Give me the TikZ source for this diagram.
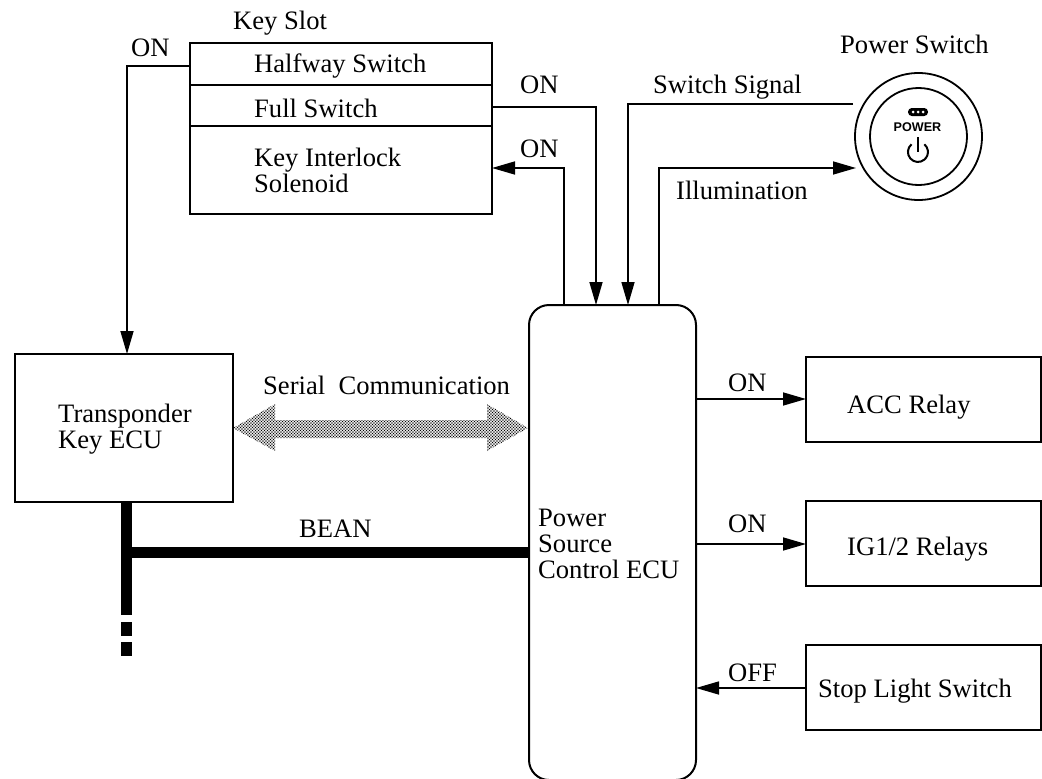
\documentclass[tikz,border=0pt]{standalone}
\usepackage{fontspec}
\setmainfont{Liberation Serif}
\newfontfamily\hv{Liberation Sans}
\usetikzlibrary{arrows.meta,patterns}
\pgfdeclarepatternformonly{checkdots}{\pgfqpoint{-0.5pt}{-0.5pt}}{\pgfqpoint{3pt}{3pt}}{\pgfqpoint{3pt}{3pt}}{%
  \pgfpathrectangle{\pgfqpoint{-0.1pt}{-0.1pt}}{\pgfqpoint{1.2pt}{1.2pt}}%
  \pgfpathrectangle{\pgfqpoint{1.4pt}{1.4pt}}{\pgfqpoint{1.2pt}{1.2pt}}%
  \pgfusepath{fill}}
\tikzset{
 x=1pt,y=-1pt,
 boxn/.style={draw,line width=2pt,inner sep=0pt,outer sep=0pt,minimum width=#1,anchor=north west},
 lab/.style={font=\fontsize{26.6}{30}\selectfont,inner sep=0pt,anchor=base west,align=left},
 wire/.style={line width=1.6pt},
 arr/.style={line width=1.6pt,-{Triangle[length=23pt,width=13pt]}},
 bus/.style={line width=11pt,line cap=butt},
 ring/.style={circle,draw,line width=1.8pt,inner sep=0pt,outer sep=0pt},
 dotc/.style={circle,fill=white,inner sep=0pt,minimum size=3pt},
}
\begin{document}
\begin{tikzpicture}
\useasboundingbox (0,0) rectangle (1042,779);
% boxes
\node[boxn=302pt,minimum height=171pt] (slot) at (190,43) {};
\coordinate (s1) at (190,85); \coordinate (s1r) at (492,85);
\coordinate (s2) at (190,126); \coordinate (s2r) at (492,126);
\draw[wire] (s1) -- (s1r); \draw[wire] (s2) -- (s2r);
\node[boxn=218pt,minimum height=148pt] (tk) at (15,354) {};
\begin{scope}
\clip (0,0) rectangle (1042,779);
\node[boxn=167pt,minimum height=475pt,rounded corners=20pt] (ecu) at (529,305) {};
\end{scope}
\node[boxn=235pt,minimum height=85pt] (acc) at (806,357) {};
\node[boxn=235pt,minimum height=85pt] (ig) at (806,501) {};
\node[boxn=235pt,minimum height=85pt] (stop) at (806,645) {};
% power switch
\node[ring,minimum size=127pt] (pw) at (918.5,136.5) {};
\node[ring,minimum size=97pt] (pwi) at (918.5,136.5) {};
\node[fill=black,rounded corners=3.8pt,minimum width=20pt,minimum height=8pt,inner sep=0pt] (led) at (918,112) {};
\node[dotc] (d1) at (913,112) {};
\node[dotc] (d2) at (918,112) {};
\node[dotc] (d3) at (923,112) {};
\node[font=\hv\bfseries\fontsize{12.6}{13}\selectfont,inner sep=0pt] (pwt) at (917.5,127) {POWER};
\draw[line width=2pt] (911.5,144.3) arc[start angle=130,end angle=410,radius=10pt];
\coordinate (ia) at (918,137); \coordinate (ib) at (918,152);
\draw[line width=2pt] (ia) -- (ib);
% labels
\node[lab] (t1) at (233,30) {Key Slot};
\node[lab] (t2) at (254,72) {Halfway Switch};
\node[lab] (t3) at (254,117) {Full Switch};
\node[lab] (t4) at (254,166) {Key Interlock};
\node[lab] (t5) at (254,192) {Solenoid};
\node[lab] (t6) at (131,56) {ON};
\node[lab] (t7) at (520,93) {ON};
\node[lab] (t8) at (520,157) {ON};
\node[lab] (t9) at (653,93) {Switch Signal};
\node[lab] (t10) at (676,199) {Illumination};
\node[lab] (t11) at (840,53) {Power Switch};
\node[lab] (t12) at (263,394) {Serial\ \ Communication};
\node[lab] (t13) at (58,422) {Transponder};
\node[lab] (t14) at (58,448) {Key ECU};
\node[lab] (t15) at (299,537) {BEAN};
\node[lab] (t16) at (538,526) {Power};
\node[lab] (t17) at (538,552) {Source};
\node[lab] (t18) at (538,578) {Control ECU};
\node[lab] (t19) at (728,391) {ON};
\node[lab] (t20) at (728,532) {ON};
\node[lab] (t21) at (728,681) {OFF};
\node[lab] (t22) at (847,413) {ACC Relay};
\node[lab] (t23) at (847,555) {IG1/2 Relays};
\node[lab] (t24) at (818,697) {Stop Light Switch};
% connectors
\coordinate (c1) at (127,66);
\draw[arr] (slot.west |- c1) -- (c1) -- (c1 |- tk.north);
\coordinate (c2) at (596,107);
\draw[arr] (slot.east |- c2) -- (c2) -- (c2 |- ecu.north);
\coordinate (c3) at (564,168);
\draw[arr] (c3 |- ecu.north) -- (c3) -- (c3 -| slot.east);
\coordinate (c4s) at (853,104); \coordinate (c4) at (628,104);
\draw[arr] (c4s) -- (c4) -- (c4 |- ecu.north);
\coordinate (c5) at (659,168); \coordinate (c5t) at (856,168);
\draw[arr] (c5 |- ecu.north) -- (c5) -- (c5t);
\coordinate (r1) at (806,399); \coordinate (r2) at (806,544); \coordinate (r3) at (806,688);
\draw[arr] (r1 -| ecu.east) -- (acc.west |- r1);
\draw[arr] (r2 -| ecu.east) -- (ig.west |- r2);
\draw[arr] (stop.west |- r3) -- (r3 -| ecu.east);
% serial arrow
\draw[draw=none,pattern=checkdots,pattern color=black] (233,428) -- (275,404) -- (275,420) -- (487,420) -- (487,404) -- (528,428) -- (487,451) -- (487,438) -- (275,438) -- (275,451) -- cycle;
% bean
\coordinate (b1) at (126.5,502); \coordinate (b2) at (126.5,615);
\coordinate (b3) at (126.5,552.5);
\coordinate (b5) at (126.5,622); \coordinate (b6) at (126.5,636);
\coordinate (b7) at (126.5,642); \coordinate (b8) at (126.5,656);
\draw[bus] (b1) -- (b2);
\draw[bus] (b3) -- (b3 -| ecu.west);
\draw[bus] (b5) -- (b6);
\draw[bus] (b7) -- (b8);
\end{tikzpicture}
\end{document}
